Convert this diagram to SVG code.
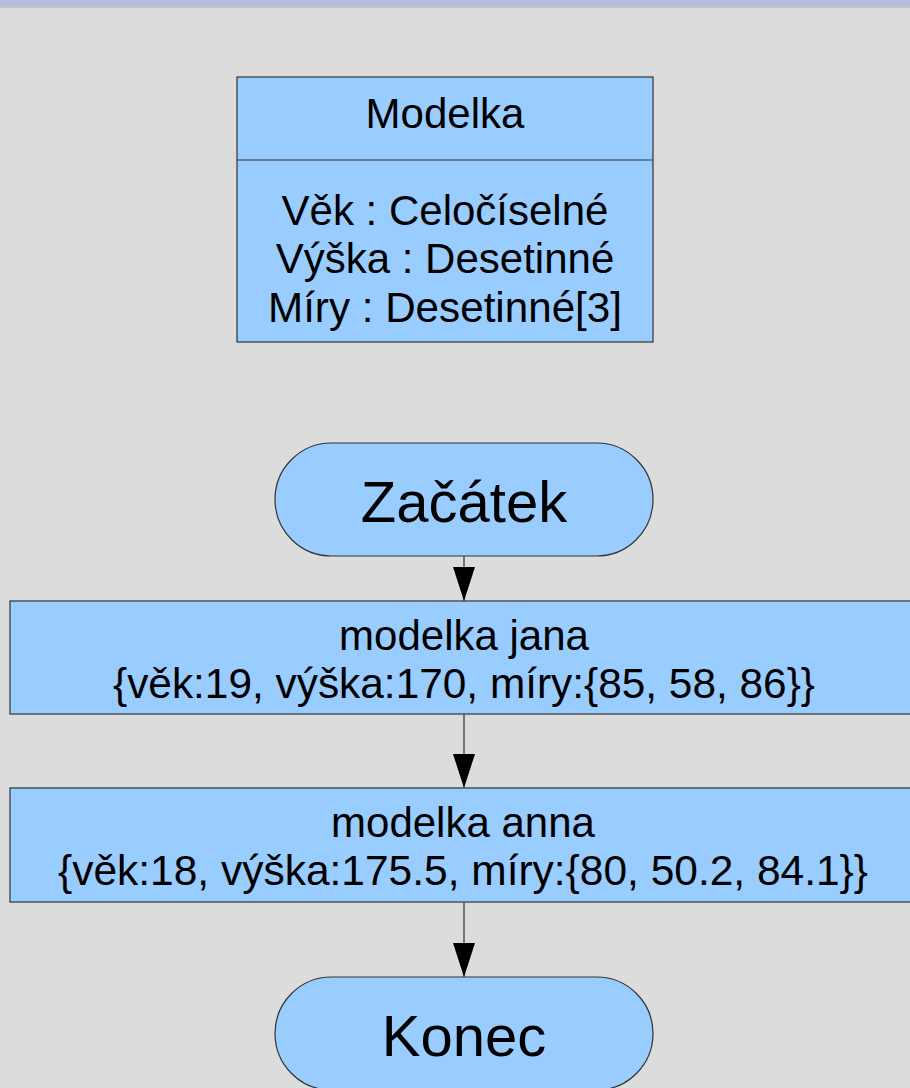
<svg xmlns="http://www.w3.org/2000/svg" width="910" height="1088" viewBox="0 0 910 1088">
<defs>
<style>
.shape{fill:#99ccff;stroke:#333333;stroke-width:1.2}
.t{font-family:"Liberation Sans",Arial,sans-serif;fill:#000000;text-anchor:middle}
.f42{font-size:42px}
.f58{font-size:58px}
.conn{stroke:#555555;stroke-width:1.5;fill:none}
</style>
<marker id="arrow" markerUnits="userSpaceOnUse" markerWidth="34" markerHeight="22" refX="34" refY="11" orient="auto">
<path d="M0,0 L34,11 L0,22 z" fill="#000000"/>
</marker>
</defs>
<rect x="0" y="0" width="910" height="1088" fill="#dcdcdc"/>
<rect x="0" y="0" width="910" height="6" fill="#b8bcd8"/>
<rect x="0" y="6" width="910" height="2" fill="#c4c4c8"/>

<g id="class-modelka">
<rect class="shape" x="237" y="77" width="416" height="265"/>
<line x1="237" y1="160" x2="653" y2="160" stroke="#333333" stroke-width="1.2"/>
<text class="t f42" x="445" y="128">Modelka</text>
<text class="t f42" x="445" y="225">Věk : Celočíselné</text>
<text class="t f42" x="445" y="273">Výška : Desetinné</text>
<text class="t f42" x="445" y="322" textLength="354" lengthAdjust="spacingAndGlyphs">Míry : Desetinné[3]</text>
</g>

<g id="start">
<rect class="shape" x="275" y="443" width="378" height="113" rx="56.5" ry="56.5"/>
<text class="t f58" x="464" y="522">Začátek</text>
</g>

<g id="jana">
<rect class="shape" x="10" y="601" width="910" height="113"/>
<text class="t f42" x="464" y="650">modelka jana</text>
<text class="t f42" x="464" y="698" textLength="702" lengthAdjust="spacingAndGlyphs">{věk:19, výška:170, míry:{85, 58, 86}}</text>
</g>

<g id="anna">
<rect class="shape" x="10" y="788" width="910" height="114"/>
<text class="t f42" x="463" y="837">modelka anna</text>
<text class="t f42" x="463" y="885" textLength="810" lengthAdjust="spacingAndGlyphs">{věk:18, výška:175.5, míry:{80, 50.2, 84.1}}</text>
</g>

<g id="end">
<rect class="shape" x="275" y="977" width="378" height="113" rx="56.5" ry="56.5"/>
<text class="t f58" x="464" y="1056">Konec</text>
</g>

<g id="connectors">
<line class="conn" x1="464" y1="556" x2="464" y2="601" marker-end="url(#arrow)"/>
<line class="conn" x1="464" y1="714" x2="464" y2="788" marker-end="url(#arrow)"/>
<line class="conn" x1="464" y1="902" x2="464" y2="977" marker-end="url(#arrow)"/>
</g>
</svg>
